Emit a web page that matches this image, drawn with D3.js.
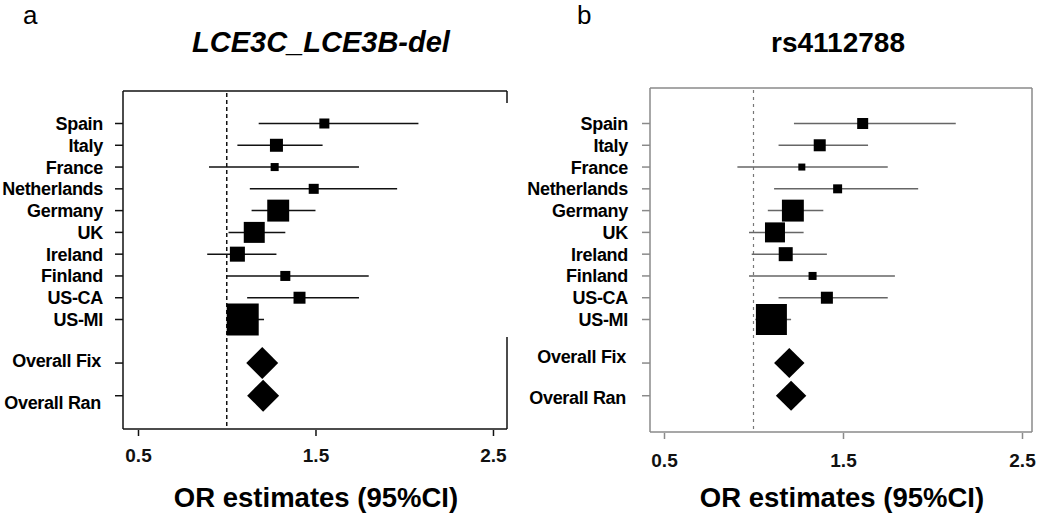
<!DOCTYPE html>
<html>
<head>
<meta charset="utf-8">
<script src="https://cdn.jsdelivr.net/npm/d3@7"></script>
<style>
  body { margin: 0; background: #fff; }
  svg { display: block; font-family: "Liberation Sans", Arial, sans-serif; }
</style>
</head>
<body>
<svg id="chart" width="1050" height="521"></svg>
<script>
// Study rows (top to bottom), then the two pooled estimates
const studies = ['Spain', 'Italy', 'France', 'Netherlands', 'Germany', 'UK', 'Ireland', 'Finland', 'US-CA', 'US-MI'];
const pooled = ['Overall Fix', 'Overall Ran'];
const xTicks = [0.5, 1.5, 2.5];

// Panel a: LCE3C_LCE3B-del
const orA = [1.55, 1.28, 1.27, 1.49, 1.29, 1.155, 1.06, 1.33, 1.41, 1.09];
const loA = [1.18, 1.06, 0.90, 1.13, 1.14, 1.01, 0.89, 1.00, 1.115, 1.00];
const hiA = [2.08, 1.54, 1.745, 1.96, 1.50, 1.33, 1.28, 1.80, 1.745, 1.21];
const weightA = [9.8, 16.5, 6.3, 9.8, 47, 43, 22, 9.8, 14, 100];
const pooledOrA = [1.20, 1.205];
const pooledLoA = [1.11, 1.115];
const pooledHiA = [1.29, 1.295];

// Panel b: rs4112788
const orB = [1.61, 1.37, 1.27, 1.47, 1.22, 1.12, 1.18, 1.33, 1.41, 1.10];
const loB = [1.226, 1.14, 0.91, 1.115, 1.08, 0.975, 0.99, 0.975, 1.14, 1.01];
const hiB = [2.13, 1.64, 1.75, 1.92, 1.39, 1.28, 1.41, 1.79, 1.75, 1.21];
const weightB = [12.6, 15, 5.1, 8.4, 50, 41.6, 20.4, 6.7, 15, 100];
const pooledOrB = [1.20, 1.21];
const pooledLoB = [1.115, 1.125];
const pooledHiB = [1.285, 1.295];

// row slots: studies on 0..9, pooled rows a bit further down
const pooledSlot = [11, 12.5];

const svg = d3.select('#chart');

function drawPanel(cfg) {
  const g = svg.append('g');
  const x = d3.scaleLinear().domain(cfg.domain).range([cfg.left, cfg.right]);
  const y = d3.scaleLinear().domain([0, 9]).range([123.5, 319.5]);
  const size = d3.scaleSqrt().domain([0, 100]).range([0, cfg.maxSize]);

  // letter + title
  g.append('text').attr('x', cfg.letterX).attr('y', 24)
    .style('font-size', '26px').text(cfg.letter);
  g.append('text').attr('x', cfg.titleX).attr('y', 52)
    .attr('text-anchor', 'middle')
    .style('font-size', cfg.titleSize).style('font-weight', 'bold')
    .style('font-style', cfg.titleStyle).text(cfg.title);

  // frame
  const fr = g.append('g').attr('fill', 'none').attr('stroke', cfg.frameColor).attr('stroke-width', 1.5);
  fr.append('line').attr('x1', cfg.left).attr('x2', cfg.right).attr('y1', cfg.top).attr('y2', cfg.top);
  fr.append('line').attr('x1', cfg.left).attr('x2', cfg.right).attr('y1', cfg.bottom).attr('y2', cfg.bottom);
  fr.append('line').attr('x1', cfg.left).attr('x2', cfg.left).attr('y1', cfg.top).attr('y2', cfg.bottom);
  cfg.rightEdge.forEach(([a, b]) => {
    fr.append('line').attr('x1', cfg.right).attr('x2', cfg.right).attr('y1', a).attr('y2', b);
  });

  // x axis
  const xAxis = d3.axisBottom(x).tickValues(xTicks).tickSize(6).tickFormat(d3.format('.1f'));
  const ax = g.append('g').attr('transform', `translate(0,${cfg.bottom + 1})`).call(xAxis);
  ax.select('.domain').remove();
  ax.selectAll('line').attr('stroke', cfg.frameColor).attr('stroke-width', 1.5);
  ax.selectAll('text').attr('y', cfg.tickLabelDy).attr('dy', 0)
    .style('font-size', '19px').style('font-weight', 'bold')
    .style('font-family', '"Liberation Sans", Arial, sans-serif').attr('fill', '#111');

  g.append('text').attr('x', cfg.xLabelX).attr('y', 507).attr('text-anchor', 'middle')
    .style('font-size', '27.5px').style('font-weight', 'bold').text('OR estimates (95%CI)');

  // reference line at OR = 1
  g.append('line').attr('x1', x(1)).attr('x2', x(1)).attr('y1', cfg.top + 2).attr('y2', cfg.bottom)
    .attr('stroke', cfg.refColor).attr('stroke-width', cfg.refWidth).attr('stroke-dasharray', cfg.refDash);

  // y ticks + labels
  const slots = studies.map((d, i) => i).concat(pooledSlot);
  const names = studies.concat(pooled);
  g.append('g').selectAll('line').data(slots).join('line')
    .attr('x1', cfg.left - 8).attr('x2', cfg.left)
    .attr('y1', d => y(d)).attr('y2', d => y(d))
    .attr('stroke', cfg.frameColor).attr('stroke-width', 1.5);
  g.append('g').selectAll('text').data(names).join('text')
    .attr('x', (d, i) => i < studies.length ? cfg.labelX : cfg.labelX - 2)
    .attr('y', (d, i) => y(slots[i]) + 6.5 + (i < studies.length ? 0 : cfg.pooledShift[i - studies.length]))
    .attr('text-anchor', 'end')
    .style('font-size', '18px').style('font-weight', 'bold').style('letter-spacing', '-0.3px')
    .text(d => d);

  // confidence intervals
  g.append('g').selectAll('line').data(cfg.or).join('line')
    .attr('x1', (d, i) => x(cfg.lo[i])).attr('x2', (d, i) => x(cfg.hi[i]))
    .attr('y1', (d, i) => y(i)).attr('y2', (d, i) => y(i))
    .attr('stroke', cfg.ciColor).attr('stroke-width', 1.5);

  // study squares
  g.append('g').selectAll('rect').data(cfg.or).join('rect')
    .attr('x', (d, i) => x(d) - size(cfg.w[i]) / 2)
    .attr('y', (d, i) => y(i) - size(cfg.w[i]) / 2)
    .attr('width', (d, i) => size(cfg.w[i]))
    .attr('height', (d, i) => size(cfg.w[i]))
    .attr('fill', '#000');

  // pooled diamonds
  g.append('g').selectAll('path').data(cfg.pOr).join('path')
    .attr('d', (d, i) => {
      const cy = y(pooledSlot[i]), h = cfg.diamondH / 2;
      return `M${x(cfg.pLo[i])},${cy}L${x(d)},${cy - h}L${x(cfg.pHi[i])},${cy}L${x(d)},${cy + h}Z`;
    })
    .attr('fill', '#000');
}

drawPanel({
  letter: 'a', letterX: 23, title: 'LCE3C_LCE3B-del', titleX: 321, titleSize: '29px', titleStyle: 'italic',
  left: 123, right: 507, top: 91, bottom: 429, domain: [0.4155, 2.579],
  rightEdge: [[91, 103], [337, 429]],
  frameColor: '#111', ciColor: '#111', refColor: '#111', refWidth: 1.5, refDash: '4,3',
  labelX: 103, pooledShift: [-3, 7], tickLabelDy: 32, xLabelX: 316,
  or: orA, lo: loA, hi: hiA, w: weightA, pOr: pooledOrA, pLo: pooledLoA, pHi: pooledHiA,
  maxSize: 32, diamondH: 32
});

drawPanel({
  letter: 'b', letterX: 577, title: 'rs4112788', titleX: 838, titleSize: '28px', titleStyle: 'normal',
  left: 650, right: 1032, top: 88, bottom: 432, domain: [0.4218, 2.5559],
  rightEdge: [[88, 432]],
  frameColor: '#8a8a8a', ciColor: '#666', refColor: '#777', refWidth: 1.2, refDash: '3,4',
  labelX: 628, pooledShift: [-7, 2], tickLabelDy: 34, xLabelX: 842,
  or: orB, lo: loB, hi: hiB, w: weightB, pOr: pooledOrB, pLo: pooledLoB, pHi: pooledHiB,
  maxSize: 31, diamondH: 30
});
</script>
</body>
</html>
